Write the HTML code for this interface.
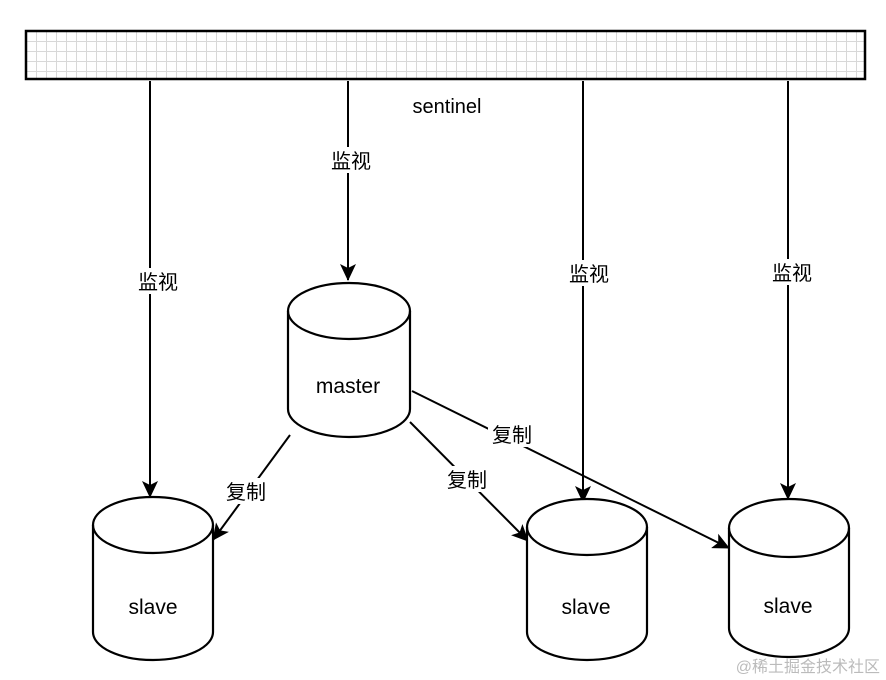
<!DOCTYPE html>
<html><head><meta charset="utf-8"><style>
html,body{margin:0;padding:0;background:#fff;}
svg{display:block;}
text{font-family:"Liberation Sans","Noto Sans CJK SC",sans-serif;fill:#000;}
</style></head><body>
<svg width="886" height="680" viewBox="0 0 886 680" xmlns="http://www.w3.org/2000/svg">
<defs>
<pattern id="g" width="10" height="10" patternUnits="userSpaceOnUse" x="26" y="31">
<path d="M0 0H10M0 0V10" stroke="#d8d8d8" stroke-width="2" fill="none"/>
</pattern>
<marker id="a" markerWidth="18" markerHeight="16" refX="16" refY="8" orient="auto" markerUnits="userSpaceOnUse">
<path d="M0,0 L17,8 L0,16 L4,8 Z" fill="#000"/>
</marker>
</defs>
<rect x="26" y="31" width="839" height="48" fill="url(#g)" stroke="#000" stroke-width="2.5"/>
<text x="447" y="113" font-size="20" text-anchor="middle">sentinel</text>

<g stroke="#000" stroke-width="2" fill="none">
<line x1="150" y1="81" x2="150" y2="497" marker-end="url(#a)"/>
<line x1="348" y1="81" x2="348" y2="280" marker-end="url(#a)"/>
<line x1="583" y1="81" x2="583" y2="502" marker-end="url(#a)"/>
<line x1="788" y1="81" x2="788" y2="499" marker-end="url(#a)"/>
<line x1="290" y1="435" x2="213" y2="540" marker-end="url(#a)"/>
<line x1="410" y1="422" x2="528" y2="541" marker-end="url(#a)"/>
<line x1="412" y1="391" x2="729" y2="548" marker-end="url(#a)"/>
</g>

<g fill="#fff">
<rect x="132" y="268" width="52" height="26"/>
<rect x="326" y="147" width="52" height="26"/>
<rect x="563" y="260" width="52" height="26"/>
<rect x="766" y="259" width="52" height="26"/>
<rect x="222" y="478" width="50" height="26"/>
<rect x="443" y="466" width="50" height="26"/>
<rect x="488" y="421" width="50" height="26"/>
</g>
<g font-size="20" text-anchor="middle">
<text x="158" y="289">监视</text>
<text x="351" y="168">监视</text>
<text x="589" y="281">监视</text>
<text x="792" y="280">监视</text>
<text x="246" y="499">复制</text>
<text x="467" y="487">复制</text>
<text x="512" y="442">复制</text>
</g>

<g stroke="#000" stroke-width="2.2" fill="#fff">
<path d="M288,311 a61,28 0 0 1 122,0 v98 a61,28 0 0 1 -122,0 Z"/>
<path d="M288,311 a61,28 0 0 0 122,0" fill="none"/>
<path d="M93,525 a60,28 0 0 1 120,0 v107 a60,28 0 0 1 -120,0 Z"/>
<path d="M93,525 a60,28 0 0 0 120,0" fill="none"/>
<path d="M527,527 a60,28 0 0 1 120,0 v105 a60,28 0 0 1 -120,0 Z"/>
<path d="M527,527 a60,28 0 0 0 120,0" fill="none"/>
<path d="M729,528 a60,29 0 0 1 120,0 v100 a60,29 0 0 1 -120,0 Z"/>
<path d="M729,528 a60,29 0 0 0 120,0" fill="none"/>
</g>
<g font-size="21" text-anchor="middle">
<text x="348" y="393">master</text>
<text x="153" y="614">slave</text>
<text x="586" y="614">slave</text>
<text x="788" y="613">slave</text>
</g>
<text x="880" y="672" font-size="16" text-anchor="end" style="fill:#bbb">@稀土掘金技术社区</text>
</svg>
</body></html>
